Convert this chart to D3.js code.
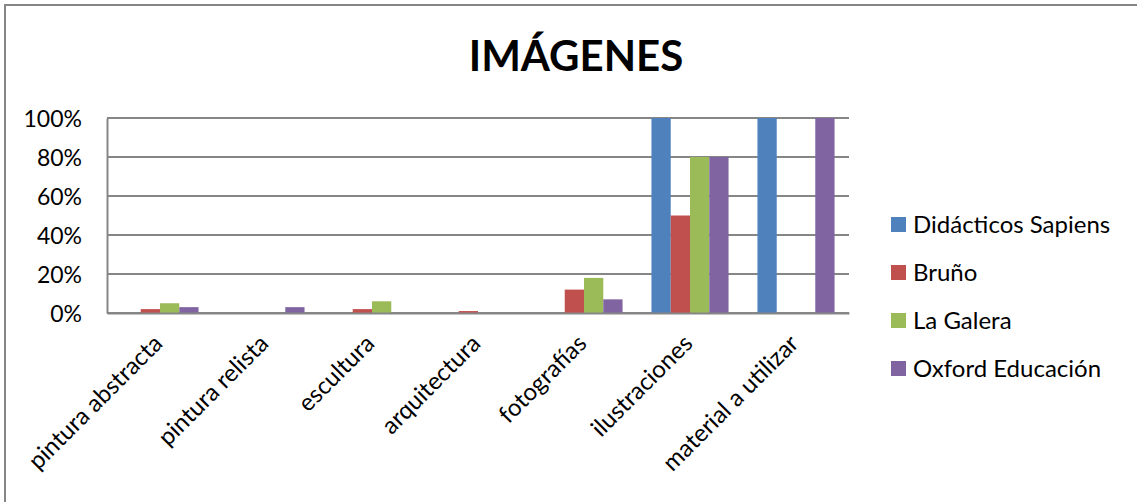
<!DOCTYPE html>
<html>
<head>
<meta charset="utf-8">
<script src="https://cdn.jsdelivr.net/npm/d3@7"></script>
<style>
  html, body { margin: 0; padding: 0; background: #fff; }
  svg { display: block; }
  text { font-family: Lato, "Open Sans", sans-serif; fill: #000; }
</style>
</head>
<body>
<svg id="chart" width="1137" height="502"></svg>
<script>
// Image types used in each publisher's materials (share of items)
const categories = ["pintura abstracta", "pintura relista", "escultura", "arquitectura",
                    "fotografías", "ilustraciones", "material a utilizar"];
const seriesNames = ["Didácticos Sapiens", "Bruño", "La Galera", "Oxford Educación"];
const seriesColors = ["#4F81BD", "#C0504D", "#9BBB59", "#8064A2"];
const didacticosSapiens = [0, 0, 0, 0, 0, 100, 100];
const bruno             = [2, 0, 2, 1, 12, 50, 0];
const laGalera          = [5, 0, 6, 0, 18, 80, 0];
const oxfordEducacion   = [3, 3, 0, 0, 7, 80, 100];
const yTicks = [0, 20, 40, 60, 80, 100];
const chartTitle = "IMÁGENES";

const seriesValues = [didacticosSapiens, bruno, laGalera, oxfordEducacion];

const svg = d3.select("#chart");
const plot = { left: 107, right: 849, top: 118, bottom: 313 };

// outer chart frame
svg.append("rect")
  .attr("x", 5).attr("y", 5).attr("width", 1150).attr("height", 520)
  .attr("fill", "none").attr("stroke", "#868686").attr("stroke-width", 2);

// title
svg.append("text")
  .attr("x", 576).attr("y", 71)
  .attr("text-anchor", "middle")
  .style("font-size", "42px").style("font-weight", "bold")
  .text(chartTitle);

const x0 = d3.scaleBand().domain(categories).range([plot.left, plot.right]);
// gap width of 150%: each category holds 4 bars plus 1.5 bar-widths of gap
const barW = x0.bandwidth() / (seriesNames.length + 1.5);
const y = d3.scaleLinear().domain([0, 100]).range([plot.bottom, plot.top]);

// gridlines
svg.append("g")
  .selectAll("line")
  .data(yTicks)
  .join("line")
  .attr("x1", plot.left).attr("x2", plot.right)
  .attr("y1", d => y(d)).attr("y2", d => y(d))
  .attr("stroke", "#868686").attr("stroke-width", 2);

// y axis
const yAxis = d3.axisLeft(y).tickValues(yTicks).tickFormat(d => d + "%").tickSize(0).tickPadding(25);
const gy = svg.append("g").attr("transform", `translate(${plot.left},0)`).call(yAxis);
gy.select(".domain").attr("stroke", "#868686").attr("stroke-width", 2);
gy.selectAll("text").style("font-size", "23px").attr("dy", "0.36em");

// bars
const groups = svg.append("g")
  .selectAll("g")
  .data(seriesNames.map((name, i) => ({ name, i, values: seriesValues[i] })))
  .join("g")
  .attr("fill", d => seriesColors[d.i]);

groups.selectAll("rect")
  .data(d => d.values.map((v, c) => ({ v, c, s: d.i })))
  .join("rect")
  .attr("x", d => x0(categories[d.c]) + 0.75 * barW + d.s * barW)
  .attr("width", barW)
  .attr("y", d => y(d.v))
  .attr("height", d => y(0) - y(d.v));

// x axis
const xAxis = d3.axisBottom(x0).tickSize(0).tickPadding(0);
const gx = svg.append("g").attr("transform", `translate(0,${plot.bottom})`).call(xAxis);
gx.select(".domain").attr("stroke", "#868686").attr("stroke-width", 2);
gx.selectAll("text")
  .style("font-size", "24px")
  .attr("text-anchor", "end")
  .attr("dy", "0")
  .attr("transform", "translate(4,32) rotate(-45)");

// legend
const legend = svg.append("g")
  .selectAll("g")
  .data(seriesNames)
  .join("g")
  .attr("transform", (d, i) => `translate(891,${224 + i * 48})`);
legend.append("rect")
  .attr("x", 0).attr("y", -7).attr("width", 15).attr("height", 15)
  .attr("fill", (d, i) => seriesColors[i]);
legend.append("text")
  .attr("x", 22).attr("y", 0).attr("dy", "0.36em")
  .style("font-size", "24px")
  .text(d => d);
</script>
</body>
</html>
